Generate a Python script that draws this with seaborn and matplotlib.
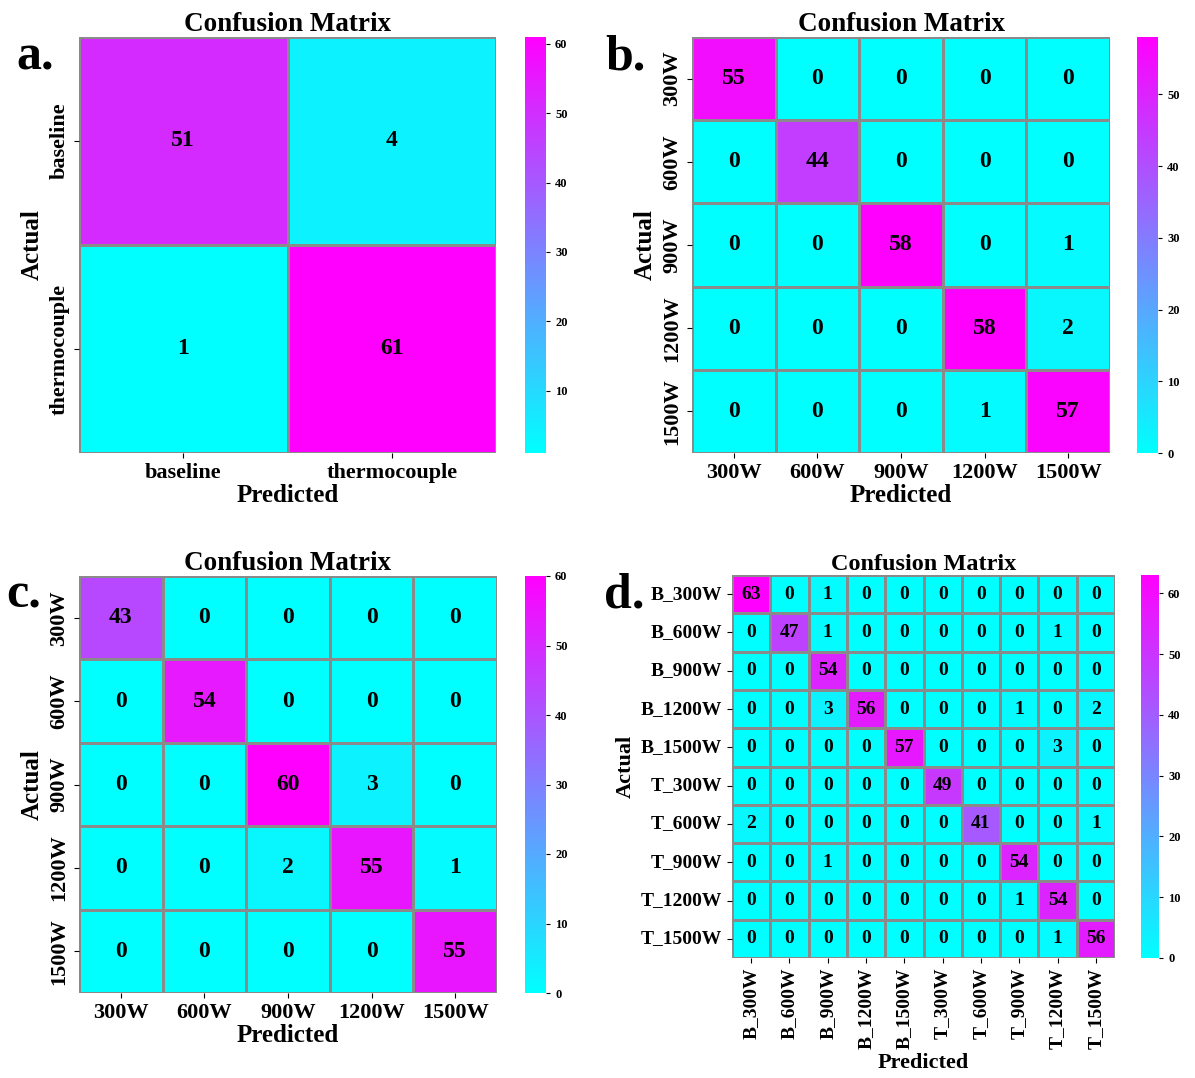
import numpy as np
import matplotlib
matplotlib.use('Agg')
import matplotlib.pyplot as plt
import seaborn as sns

plt.rcParams['font.family'] = ['Liberation Serif', 'DejaVu Serif']
plt.rcParams['font.weight'] = 'bold'
plt.rcParams['axes.labelweight'] = 'bold'
plt.rcParams['axes.titleweight'] = 'bold'

# panel a: baseline vs thermocouple
labels_a = ['baseline', 'thermocouple']
cm_a = [[51, 4],
        [1, 61]]

# panel b / c: power levels
labels_power = ['300W', '600W', '900W', '1200W', '1500W']
cm_b = [[55, 0, 0, 0, 0],
        [0, 44, 0, 0, 0],
        [0, 0, 58, 0, 1],
        [0, 0, 0, 58, 2],
        [0, 0, 0, 1, 57]]
cm_c = [[43, 0, 0, 0, 0],
        [0, 54, 0, 0, 0],
        [0, 0, 60, 3, 0],
        [0, 0, 2, 55, 1],
        [0, 0, 0, 0, 55]]

# panel d: combined classes
labels_d = ['B_300W', 'B_600W', 'B_900W', 'B_1200W', 'B_1500W',
            'T_300W', 'T_600W', 'T_900W', 'T_1200W', 'T_1500W']
cm_d = [[63, 0, 1, 0, 0, 0, 0, 0, 0, 0],
        [0, 47, 1, 0, 0, 0, 0, 0, 1, 0],
        [0, 0, 54, 0, 0, 0, 0, 0, 0, 0],
        [0, 0, 3, 56, 0, 0, 0, 1, 0, 2],
        [0, 0, 0, 0, 57, 0, 0, 0, 3, 0],
        [0, 0, 0, 0, 0, 49, 0, 0, 0, 0],
        [2, 0, 0, 0, 0, 0, 41, 0, 0, 1],
        [0, 0, 1, 0, 0, 0, 0, 54, 0, 0],
        [0, 0, 0, 0, 0, 0, 0, 1, 54, 0],
        [0, 0, 0, 0, 0, 0, 0, 0, 1, 56]]

W, H = 1195, 1078
fig = plt.figure(figsize=(W / 100, H / 100), dpi=100)


def box(x0, y0, x1, y1):
    # pixel box -> figure fraction
    return [x0 / W, 1 - y1 / H, (x1 - x0) / W, (y1 - y0) / H]


def draw(hm_box, cb_box, mat, labels, letter, letter_xy, big=True):
    ax = fig.add_axes(box(*hm_box))
    cax = fig.add_axes(box(*cb_box))
    fs_annot = 17 if big else 14
    fs_tick = 16 if big else 14
    sns.heatmap(np.array(mat), annot=True, fmt='d', cmap='cool',
                linewidths=0.8, linecolor='#8a8a8a', ax=ax, cbar_ax=cax,
                xticklabels=labels, yticklabels=labels,
                annot_kws={'fontsize': fs_annot, 'fontweight': 'bold', 'color': 'black'})
    ax.set_title('Confusion Matrix', fontsize=19.5 if big else 17.5, pad=3)
    ax.set_xlabel('Predicted', fontsize=18 if big else 16, labelpad=1 if big else 3)
    ax.set_ylabel('Actual', fontsize=18 if big else 16, labelpad=4)
    if big:
        ax.tick_params(axis='x', labelsize=fs_tick, labelrotation=0)
        ax.tick_params(axis='y', labelsize=fs_tick, labelrotation=90)
        for t in ax.get_yticklabels():
            t.set_va('center')
    else:
        ax.tick_params(axis='x', labelsize=fs_tick, labelrotation=90)
        ax.tick_params(axis='y', labelsize=fs_tick, labelrotation=0)
    cax.tick_params(labelsize=9, length=3)
    for t in cax.get_yticklabels():
        t.set_fontweight('bold')
    for s in cax.spines.values():
        s.set_visible(False)
    fig.text(letter_xy[0] / W, 1 - letter_xy[1] / H, letter,
             fontsize=36, fontweight='bold', ha='left', va='baseline')
    return ax


draw((79, 37, 496, 453), (525, 37, 546, 453), cm_a, labels_a, 'a.', (16, 70))
draw((692, 37, 1110, 453), (1137, 37, 1158, 453), cm_b, labels_power, 'b.', (605, 70))
draw((79, 576, 497, 993), (525, 576, 546, 993), cm_c, labels_power, 'c.', (6, 608))
draw((732, 575, 1115, 958), (1141, 575, 1159, 958), cm_d, labels_d, 'd.', (604, 608), big=False)

plt.savefig('out.png', dpi=100)
plt.close()
